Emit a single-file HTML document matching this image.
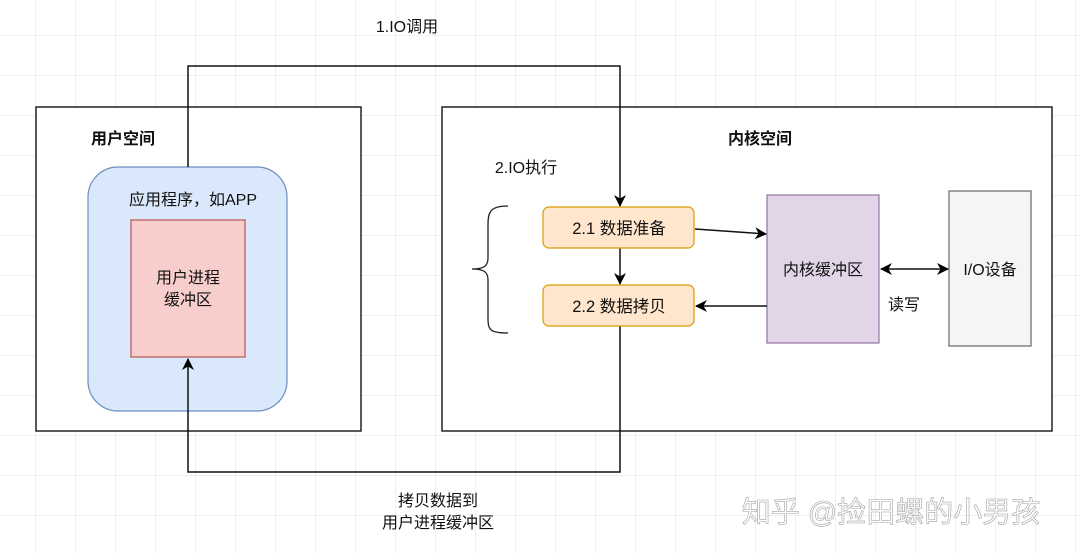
<!DOCTYPE html>
<html><head><meta charset="utf-8"><style>
body{margin:0;width:1080px;height:553px;overflow:hidden;background:#fff;
background-image:linear-gradient(#efefef 1px,transparent 1px),linear-gradient(90deg,#efefef 1px,transparent 1px);background-size:40px 40px;background-position:-5px -5px;}
svg{position:absolute;left:0;top:0}
text{font-family:"Liberation Sans","Noto Sans CJK SC",sans-serif;fill:#111}
</style></head><body>
<svg width="1080" height="553">
<defs><marker id="a" markerWidth="12" markerHeight="12" refX="11" refY="6" orient="auto" markerUnits="userSpaceOnUse"><path d="M0,0 L12,6 L0,12 L3.5,6z" fill="#000"/></marker>
<marker id="s" markerWidth="12" markerHeight="12" refX="1" refY="6" orient="auto" markerUnits="userSpaceOnUse"><path d="M12,0 L0,6 L12,12 L8.5,6z" fill="#000"/></marker></defs>
<rect x="36" y="107" width="325" height="324" fill="#fff" stroke="#222" stroke-width="1.5"/>
<rect x="442" y="107" width="610" height="324" fill="#fff" stroke="#222" stroke-width="1.5"/>
<rect x="88" y="167" width="199" height="244" rx="30" fill="#dae8fc" stroke="#6c8ebf" stroke-width="1.2"/>
<rect x="131" y="220" width="114" height="137" fill="#f8cecc" stroke="#b85450" stroke-width="1.2"/>
<polyline points="188,167 188,66 620,66 620,206" fill="none" stroke="#111" stroke-width="1.5" marker-end="url(#a)"/>
<polyline points="620,326 620,472 188,472 188,359" fill="none" stroke="#111" stroke-width="1.5" marker-end="url(#a)"/>
<line x1="620" y1="248" x2="620" y2="284" stroke="#111" stroke-width="1.5" marker-end="url(#a)"/>
<rect x="543" y="207" width="151" height="41" rx="6" fill="#ffe6cc" stroke="#d79b00" stroke-width="1.2"/>
<rect x="543" y="285" width="151" height="41" rx="6" fill="#ffe6cc" stroke="#d79b00" stroke-width="1.2"/>
<rect x="767" y="195" width="112" height="148" fill="#e1d5e7" stroke="#9673a6" stroke-width="1.2"/>
<rect x="949" y="191" width="82" height="155" fill="#f5f5f5" stroke="#666" stroke-width="1.2"/>
<line x1="695" y1="229" x2="766" y2="234" stroke="#111" stroke-width="1.5" marker-end="url(#a)"/>
<line x1="767" y1="306" x2="696" y2="306" stroke="#111" stroke-width="1.5" marker-end="url(#a)"/>
<line x1="881" y1="269" x2="948" y2="269" stroke="#111" stroke-width="1.5" marker-end="url(#a)" marker-start="url(#s)"/>
<path d="M508,206 C490,206 488,212 488,225 L488,258 C488,266 484,269 472,269 C484,269 488,272 488,280 L488,318 C488,330 490,333 508,333" fill="none" stroke="#222" stroke-width="1.3"/>
<text x="407" y="32" font-size="16" text-anchor="middle">1.IO调用</text>
<text x="123" y="144" font-size="16" font-weight="bold" text-anchor="middle">用户空间</text>
<text x="760" y="144" font-size="16" font-weight="bold" text-anchor="middle">内核空间</text>
<text x="526" y="173" font-size="16" text-anchor="middle">2.IO执行</text>
<text x="193" y="205" font-size="16" text-anchor="middle">应用程序，如APP</text>
<text x="188" y="283" font-size="16" text-anchor="middle">用户进程</text>
<text x="188" y="305" font-size="16" text-anchor="middle">缓冲区</text>
<text x="619" y="234" font-size="16.5" text-anchor="middle">2.1 数据准备</text>
<text x="619" y="312" font-size="16.5" text-anchor="middle">2.2 数据拷贝</text>
<text x="823" y="275" font-size="16" text-anchor="middle">内核缓冲区</text>
<text x="990" y="275" font-size="16" text-anchor="middle" fill="#333">I/O设备</text>
<text x="904" y="310" font-size="16" text-anchor="middle">读写</text>
<text x="438" y="506" font-size="16" text-anchor="middle">拷贝数据到</text>
<text x="438" y="528" font-size="16" text-anchor="middle">用户进程缓冲区</text>
<text x="891" y="522" font-size="29" text-anchor="middle" style="fill:#fff;stroke:#999;stroke-width:0.6" opacity="0.9">知乎 @捡田螺的小男孩</text>
</svg>
</body></html>
